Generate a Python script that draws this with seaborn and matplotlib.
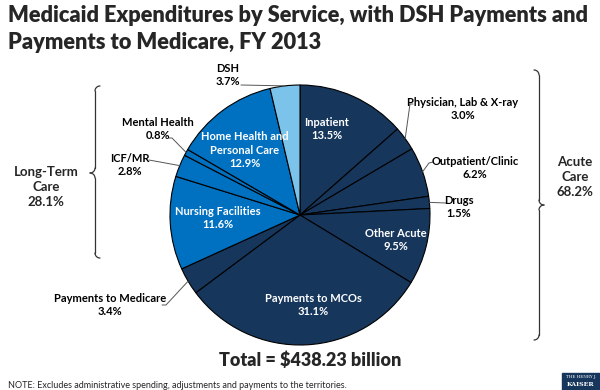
"""
    Medicaid expenditures by service pie chart (FY 2013), KFF style.
"""

import numpy as np
import seaborn as sns
import matplotlib.pyplot as plt
from matplotlib.patches import Rectangle

# slices, clockwise from 12 o'clock
services = ["Inpatient", "Physician, Lab & X-ray", "Outpatient/Clinic", "Drugs",
            "Other Acute", "Payments to MCOs", "Payments to Medicare",
            "Nursing Facilities", "ICF/MR", "Mental Health",
            "Home Health and\nPersonal Care", "DSH"]
shares = [13.5, 3.0, 6.2, 1.5, 9.5, 31.1, 3.4, 11.6, 2.8, 0.8, 12.9, 3.7]
groups = ["acute", "acute", "acute", "acute", "acute", "acute", "acute",
          "ltc", "ltc", "ltc", "ltc", "dsh"]

group_names = ["Long-Term\nCare", "Acute\nCare"]
group_shares = [28.1, 68.2]
total_label = "Total = $438.23 billion"
title = "Medicaid Expenditures by Service, with DSH Payments and\nPayments to Medicare, FY 2013"
note = "NOTE: Excludes administrative spending, adjustments and payments to the territories."

palette = {"acute": "#16365C", "ltc": "#0070C0", "dsh": "#7CC3EC"}

W, H = 600, 390
CX, CY, R = 300, 215, 130


def fx(px):
    return px / W


def fy(py):
    return 1 - py / H


def to_data(px, py):
    return (px - CX) / R, (CY - py) / R


sns.set_theme(style="white")
plt.rcParams["font.family"] = ["Lato", "DejaVu Sans"]

fig = plt.figure(figsize=(W / 100, H / 100), dpi=100)
ax = fig.add_axes([fx(CX - R), fy(CY + R), 2 * R / W, 2 * R / H])

wedges, _ = ax.pie(shares, colors=[palette[g] for g in groups], startangle=90,
                   counterclock=False, radius=1,
                   wedgeprops=dict(edgecolor="black", linewidth=0.8))
ax.set_xlim(-1, 1)
ax.set_ylim(-1, 1)
ax.set_aspect("equal")
ax.axis("off")

# label placement in pixels; outside labels also carry leader elbow points
inside = {
    0: (327, 129), 4: (396, 240), 5: (313, 305), 7: (218, 218), 10: (245, 150),
}
outside = {
    1: (463, 109, [(410, 104), (413, 104)]),
    2: (475, 168, [(429, 163), (433, 162)]),
    3: (459, 207, [(446, 203)]),
    6: (110, 305, [(166, 305), (162, 305)]),
    8: (130, 165, [(149, 160)]),
    9: (158, 129, [(172, 138), (169, 138)]),
    11: (228, 75, [(241, 85)]),
}

for i, w in enumerate(wedges):
    text = f"{services[i]}\n{shares[i]:.1f}%"
    if i in inside:
        px, py = inside[i]
        fig.text(fx(px), fy(py), text, color="white", fontsize=8, fontweight="bold",
                 ha="center", va="center", linespacing=1.25)
    else:
        px, py, elbow = outside[i]
        fig.text(fx(px), fy(py), text, color="black", fontsize=8, fontweight="bold",
                 ha="center", va="center", linespacing=1.25)
        mid = np.deg2rad((w.theta1 + w.theta2) / 2)
        pts = [(np.cos(mid), np.sin(mid))] + [to_data(*p) for p in elbow]
        xs, ys = zip(*pts)
        ax.plot(xs, ys, color="#555555", lw=0.7, clip_on=False)


def brace(x_line, y_top, y_bot, y_tip, side):
    # curly brace in figure pixels; side=+1 tip points right, -1 left
    d = 5 * side
    t = np.linspace(0, np.pi / 2, 20)
    segs = [
        (x_line - d + d * np.sin(t), y_top + 5 - 5 * np.cos(t)),
        (np.array([x_line, x_line]), np.array([y_top + 5, y_tip - 5])),
        (x_line + d * (1 - np.cos(t)), y_tip - 5 + 5 * np.sin(t)),
        (x_line + d * (1 - np.cos(t)), y_tip + 5 - 5 * np.sin(t)),
        (np.array([x_line, x_line]), np.array([y_tip + 5, y_bot - 5])),
        (x_line - d + d * np.sin(t), y_bot - 5 + 5 * np.cos(t)),
    ]
    for sx, sy in segs:
        fig.add_artist(plt.Line2D(fx(np.asarray(sx)), fy(np.asarray(sy)),
                                  color="#333333", lw=0.9))


brace(95, 86, 258, 173, -1)
brace(539, 70, 340, 205, 1)

fig.text(fx(46), fy(187), f"{group_names[0]}\n{group_shares[0]:.1f}%", fontsize=9.5,
         fontweight="bold", ha="center", va="center", linespacing=1.3)
fig.text(fx(575), fy(177), f"{group_names[1]}\n{group_shares[1]:.1f}%", fontsize=9.5,
         fontweight="bold", ha="center", va="center", linespacing=1.3)

fig.text(fx(8), fy(29), title, fontsize=15.7, fontweight="heavy", ha="left",
         va="center", linespacing=1.3)
fig.text(fx(310), fy(360), total_label, fontsize=13, fontweight="heavy",
         ha="center", va="center")
fig.text(fx(8), fy(385), note, fontsize=6.5, ha="left", va="center")

fig.add_artist(Rectangle((fx(562), 0), 38 / W, 17 / H, transform=fig.transFigure,
                         color="#16365C"))
fig.text(fx(581), fy(377), "THE HENRY J.", color="white", fontsize=3, ha="center",
         va="center", family="DejaVu Serif")
fig.text(fx(581), fy(385), "KAISER", color="white", fontsize=4.5, ha="center",
         va="center", family="DejaVu Serif", fontweight="bold")

fig.savefig("out.png", dpi=100)
